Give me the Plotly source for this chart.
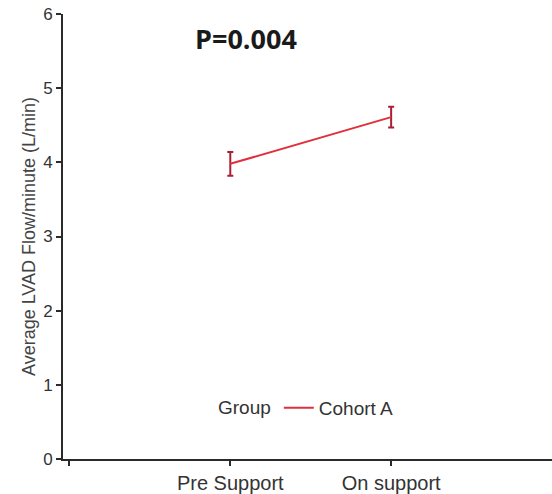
import plotly.graph_objects as go

categories = ["Pre Support", "On support"]
means = [3.98, 4.61]
errs = [0.16, 0.14]
series_name = "Cohort A"
legend_title = "Group"
y_ticks = [0, 1, 2, 3, 4, 5, 6]
annotation_text = "P=0.004"

xpos = list(range(1, len(categories) + 1))

fig = go.Figure()
fig.add_trace(go.Scatter(
    x=xpos, y=means, mode="lines", name=series_name,
    line=dict(color="#e0303c", width=2),
    error_y=dict(type="data", array=errs, visible=True, color="#a82035", thickness=2, width=3),
))

fig.update_layout(
    width=552, height=494,
    margin=dict(l=63, r=0, t=14, b=35),
    paper_bgcolor="white", plot_bgcolor="white",
    font=dict(family="Liberation Sans, Arial, sans-serif", color="#333333", size=18),
    showlegend=True,
    legend=dict(
        orientation="h", x=0.5, y=0.115, xanchor="center", yanchor="middle",
        title=dict(text=legend_title, side="left", font=dict(size=19)),
        font=dict(size=19), bgcolor="rgba(0,0,0,0)", itemwidth=30,
        tracegroupgap=0,
    ),
    annotations=[dict(
        text="<b>" + annotation_text + "</b>", x=0.265, y=0.945, xref="paper", yref="paper",
        xanchor="left", yanchor="middle", showarrow=False,
        font=dict(size=27, color="#1a1a1a", family="Open Sans, Liberation Sans, sans-serif"),
    )],
)

fig.update_xaxes(
    range=[-0.04, 3.0], tickvals=[0] + xpos, ticktext=[""] + categories,
    showline=True, linecolor="#2a2a2a", linewidth=2, ticks="outside", ticklen=5,
    tickcolor="#2a2a2a", tickwidth=2, showgrid=False, zeroline=False,
    tickfont=dict(size=20),
)
fig.update_yaxes(
    range=[0, 6], tickvals=y_ticks, showline=True, linecolor="#2a2a2a", linewidth=2,
    ticks="outside", ticklen=5, tickcolor="#2a2a2a", tickwidth=2,
    showgrid=False, zeroline=False, tickfont=dict(size=17),
    title=dict(text="Average LVAD Flow/minute (L/min)", font=dict(size=18, color="#444444"), standoff=3),
)

fig.write_html("out.html")
